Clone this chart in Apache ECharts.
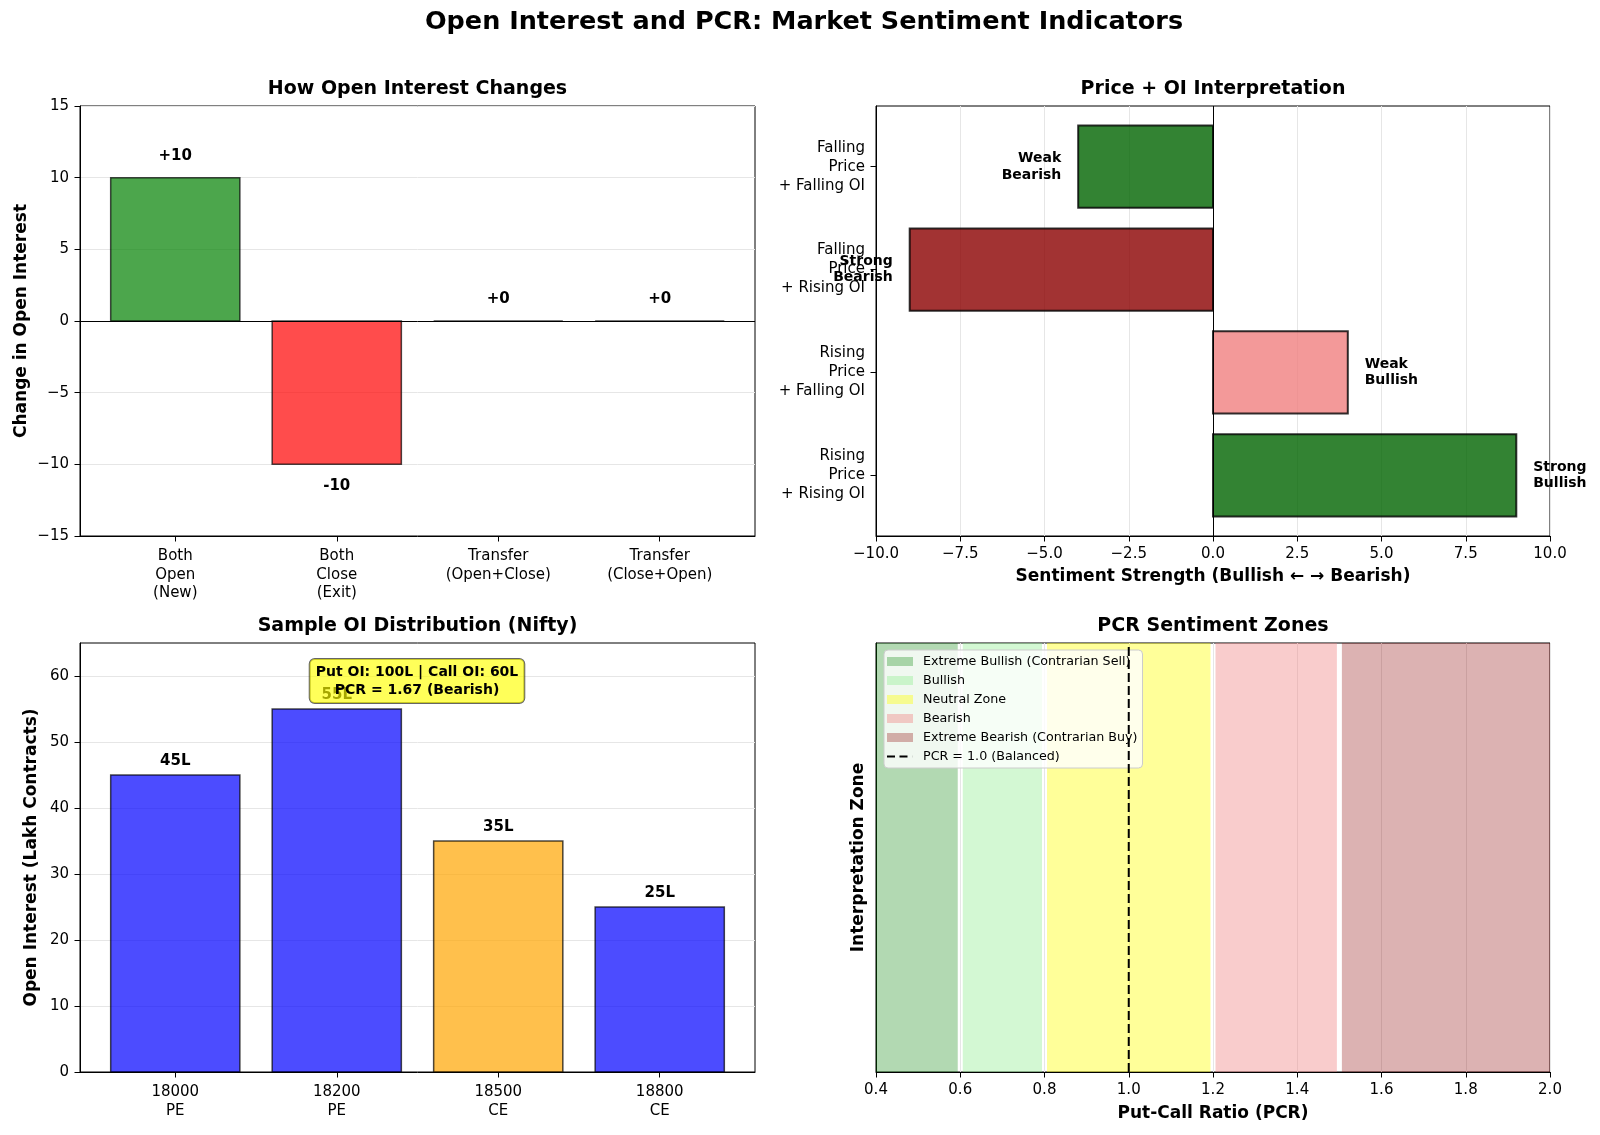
<!DOCTYPE html>
<html>
<head>
<meta charset="utf-8">
<title>Open Interest and PCR</title>
<script src="https://cdn.jsdelivr.net/npm/echarts@6/dist/echarts.min.js"></script>
<style>
html, body { margin: 0; padding: 0; background: #fff; }
#main { width: 1600px; height: 1135px; }
</style>
</head>
<body>
<div id="main"></div>
<script>
// how OI changes
var oiActions = ['Both\nOpen\n(New)', 'Both\nClose\n(Exit)', 'Transfer\n(Open+Close)', 'Transfer\n(Close+Open)'];
var oiChange = [10, -10, 0, 0];

// price + OI cases, bottom to top
var priceOiCases = ['Rising\nPrice\n+ Rising OI', 'Rising\nPrice\n+ Falling OI', 'Falling\nPrice\n+ Rising OI', 'Falling\nPrice\n+ Falling OI'];
var sentimentScore = [9, 4, -9, -4];
var sentimentTags = ['Strong\nBullish', 'Weak\nBullish', 'Strong\nBearish', 'Weak\nBearish'];

// sample nifty OI
var strikes = ['18000', '18200', '18500', '18800'];
var optTypes = ['PE', 'PE', 'CE', 'CE'];
var strikeOI = [45, 55, 35, 25];
var oiTicks = [0, 10, 20, 30, 40, 50, 60];

// pcr zones
var zoneNames = ['Extreme Bullish (Contrarian Sell)', 'Bullish', 'Neutral Zone', 'Bearish', 'Extreme Bearish (Contrarian Buy)'];
var zoneFrom = [0.4, 0.6, 0.8, 1.2, 1.5];
var zoneTo = [0.6, 0.8, 1.2, 1.5, 2.0];
var pcrBalanced = 1.0;

// colours
var oiColors = ['rgba(0,128,0,0.7)', 'rgba(255,0,0,0.7)', 'rgba(128,128,128,0.7)', 'rgba(128,128,128,0.7)'];
var caseColors = ['rgba(0,100,0,0.8)', 'rgba(240,128,128,0.8)', 'rgba(139,0,0,0.8)', 'rgba(0,100,0,0.8)'];
var strikeColors = ['rgba(0,0,255,0.7)', 'rgba(0,0,255,0.7)', 'rgba(255,165,0,0.7)', 'rgba(0,0,255,0.7)'];
var zoneColors = ['rgba(0,128,0,0.3)', 'rgba(144,238,144,0.4)', 'rgba(255,255,0,0.4)', 'rgba(240,128,128,0.4)', 'rgba(139,0,0,0.3)'];

var FONT = 'DejaVu Sans';
var gridLine = { show: true, lineStyle: { color: '#e6e6e6', width: 1 } };
var tick = { show: true, length: 5.5, lineStyle: { color: '#000', width: 1 } };
var axLine = { show: true, onZero: false, lineStyle: { color: '#000', width: 1 } };
var nameStyle = { fontSize: 17, fontWeight: 'bold', color: '#000', fontFamily: FONT };
var hiddenDot = { color: 'rgba(0,0,0,0)', opacity: 1 };
// dashed line icon for the legend
var dashIcon = 'path://M0,0h8v2.2h-8zM12.5,0h8v2.2h-8zM25.9,0h0.1v2.2h-0.1z';

function minus(s) { return String(s).replace('-', '\u2212'); }
function idx(arr) { return arr.map(function (d, i) { return i; }); }

var putOI = 0, callOI = 0;
strikeOI.forEach(function (v, i) { if (optTypes[i] === 'PE') putOI += v; else callOI += v; });
var pcr = putOI / callOI;

var chart = echarts.init(document.getElementById('main'));

function titleAt(text, x, y, size) {
    return { text: text, left: x, top: y, textAlign: 'center', padding: 0,
        textStyle: { fontSize: size, fontWeight: 'bold', color: '#000', fontFamily: FONT } };
}

function vbar(colors, lw, edge) {
    return function (params, api) {
        var i = api.value(0), v = api.value(1);
        var p0 = api.coord([i - 0.4, v]);
        var p1 = api.coord([i + 0.4, 0]);
        return {
            type: 'rect',
            shape: { x: p0[0], y: Math.min(p0[1], p1[1]), width: p1[0] - p0[0], height: Math.abs(p1[1] - p0[1]) },
            style: { fill: colors[params.dataIndex], stroke: edge, lineWidth: lw }
        };
    };
}

var series = [];

// top left
series.push({
    type: 'custom', xAxisIndex: 0, yAxisIndex: 0, z: 2,
    data: oiChange.map(function (v, i) { return [i, v]; }),
    encode: { x: 0, y: 1 },
    renderItem: vbar(oiColors, 1.5, 'rgba(0,0,0,0.7)')
});
series.push({
    type: 'scatter', xAxisIndex: 0, yAxisIndex: 0, z: 4, symbolSize: 0.1,
    itemStyle: hiddenDot,
    data: oiChange.map(function (v, i) {
        return { value: [i, v >= 0 ? v + 1 : v - 1],
            label: { position: v >= 0 ? 'top' : 'bottom', formatter: v >= 0 ? '+' + v : String(v) } };
    }),
    label: { show: true, distance: 0, fontSize: 15, fontWeight: 'bold', color: '#000', fontFamily: FONT },
    markLine: { silent: true, symbol: ['none', 'none'], label: { show: false },
        lineStyle: { color: '#000', width: 1, type: 'solid' }, data: [{ yAxis: 0 }] }
});

// top right
series.push({
    type: 'custom', xAxisIndex: 1, yAxisIndex: 1, z: 2,
    data: sentimentScore.map(function (v, k) { return [v, k]; }),
    encode: { x: 0, y: 1 },
    renderItem: function (params, api) {
        var v = api.value(0), k = api.value(1);
        var p0 = api.coord([0, k + 0.4]);
        var p1 = api.coord([v, k - 0.4]);
        return {
            type: 'rect',
            shape: { x: Math.min(p0[0], p1[0]), y: p0[1], width: Math.abs(p1[0] - p0[0]), height: p1[1] - p0[1] },
            style: { fill: caseColors[params.dataIndex], stroke: 'rgba(0,0,0,0.8)', lineWidth: 2 }
        };
    }
});
series.push({
    type: 'scatter', xAxisIndex: 1, yAxisIndex: 1, z: 4, symbolSize: 0.1,
    itemStyle: hiddenDot,
    data: sentimentScore.map(function (v, k) {
        return { value: [v >= 0 ? v + 0.5 : v - 0.5, k],
            label: { position: v >= 0 ? 'right' : 'left', formatter: sentimentTags[k] } };
    }),
    label: { show: true, distance: 0, fontSize: 14, lineHeight: 16.5, fontWeight: 'bold', color: '#000', fontFamily: FONT },
    markLine: { silent: true, symbol: ['none', 'none'], label: { show: false },
        lineStyle: { color: '#000', width: 1, type: 'solid' }, data: [{ xAxis: 0 }] }
});

// bottom left
series.push({
    type: 'custom', xAxisIndex: 2, yAxisIndex: 2, z: 2,
    data: strikeOI.map(function (v, i) { return [i, v]; }),
    encode: { x: 0, y: 1 },
    renderItem: vbar(strikeColors, 1.5, 'rgba(0,0,0,0.7)')
});
series.push({
    type: 'scatter', xAxisIndex: 2, yAxisIndex: 2, z: 4, symbolSize: 0.1,
    itemStyle: hiddenDot,
    data: strikeOI.map(function (v, i) { return { value: [i, v + 1], label: { formatter: v + 'L' } }; }),
    label: { show: true, position: 'top', distance: 0, fontSize: 15, fontWeight: 'bold', color: '#000', fontFamily: FONT }
});

// bottom right zones
var pcrMin = zoneFrom[0], pcrMax = zoneTo[zoneTo.length - 1];
zoneNames.forEach(function (name, i) {
    series.push({
        type: 'custom', name: name, xAxisIndex: 3, yAxisIndex: 3, z: 2,
        itemStyle: { color: zoneColors[i] },
        data: [[zoneFrom[i], zoneTo[i]]],
        encode: { x: [0, 1] },
        renderItem: function (params, api) {
            var a = api.value(0), b = api.value(1);
            var p0 = api.coord([a, 1]), p1 = api.coord([b, 0]);
            var x0 = p0[0], x1 = p1[0];
            if (a > pcrMin) x0 += 2.5;
            if (b < pcrMax) x1 -= 2.5;
            return { type: 'rect', shape: { x: x0, y: p0[1], width: x1 - x0, height: p1[1] - p0[1] },
                style: { fill: api.visual('color') } };
        }
    });
});
series.push({
    type: 'line', name: 'PCR = 1.0 (Balanced)', xAxisIndex: 3, yAxisIndex: 3, z: 5,
    symbol: 'none', silent: true,
    data: [[pcrBalanced, 0], [pcrBalanced, 1]],
    itemStyle: { color: '#000' },
    lineStyle: { color: '#000', width: 2, type: [9, 4] }
});

var option = {
    animation: false,
    backgroundColor: '#fff',
    textStyle: { fontFamily: FONT },
    title: [
        titleAt('Open Interest and PCR: Market Sentiment Indicators', 804, 9, 25.5),
        titleAt('How Open Interest Changes', 417.5, 80, 19),
        titleAt('Price + OI Interpretation', 1213, 80, 19),
        titleAt('Sample OI Distribution (Nifty)', 417.5, 617, 19),
        titleAt('PCR Sentiment Zones', 1213, 617, 19)
    ],
    grid: [
        { left: 80, top: 106, width: 675, height: 430, show: true, borderColor: '#000', borderWidth: 1, backgroundColor: 'transparent' },
        { left: 876, top: 106, width: 674, height: 430, show: true, borderColor: '#000', borderWidth: 1, backgroundColor: 'transparent' },
        { left: 80, top: 643, width: 675, height: 429, show: true, borderColor: '#000', borderWidth: 1, backgroundColor: 'transparent' },
        { left: 876, top: 643, width: 674, height: 429, show: true, borderColor: '#000', borderWidth: 1, backgroundColor: 'transparent' }
    ],
    xAxis: [
        { gridIndex: 0, type: 'value', min: -0.59, max: 3.59, splitLine: { show: false }, axisLine: axLine,
            axisTick: { show: true, length: 5.5, lineStyle: { color: '#000' }, customValues: idx(oiActions) },
            axisLabel: { customValues: idx(oiActions), formatter: function (v) { return oiActions[Math.round(v)]; },
                fontSize: 15, lineHeight: 18.5, margin: 11, color: '#000' } },
        { gridIndex: 1, type: 'value', min: -10, max: 10, interval: 2.5, splitLine: gridLine, axisLine: axLine, axisTick: tick,
            axisLabel: { formatter: function (v) { return minus(v.toFixed(1)); }, fontSize: 15, margin: 11, color: '#000' },
            name: 'Sentiment Strength (Bullish \u2190 \u2192 Bearish)', nameLocation: 'middle', nameGap: 32, nameTextStyle: nameStyle },
        { gridIndex: 2, type: 'value', min: -0.59, max: 3.59, splitLine: { show: false }, axisLine: axLine,
            axisTick: { show: true, length: 5.5, lineStyle: { color: '#000' }, customValues: idx(strikes) },
            axisLabel: { customValues: idx(strikes), formatter: function (v) { var i = Math.round(v); return strikes[i] + '\n' + optTypes[i]; },
                fontSize: 15, lineHeight: 18.5, margin: 11, color: '#000' } },
        { gridIndex: 3, type: 'value', min: 0.4, max: 2.0, interval: 0.2, splitLine: gridLine, axisLine: axLine, axisTick: tick,
            axisLabel: { formatter: function (v) { return v.toFixed(1); }, fontSize: 15, margin: 11, color: '#000' },
            name: 'Put-Call Ratio (PCR)', nameLocation: 'middle', nameGap: 33, nameTextStyle: nameStyle }
    ],
    yAxis: [
        { gridIndex: 0, type: 'value', min: -15, max: 15, interval: 5, splitLine: gridLine, axisLine: axLine, axisTick: tick,
            axisLabel: { formatter: function (v) { return minus(Math.round(v)); }, fontSize: 15, margin: 11, color: '#000' },
            name: 'Change in Open Interest', nameLocation: 'middle', nameGap: 50, nameTextStyle: nameStyle },
        { gridIndex: 1, type: 'value', min: -0.59, max: 3.59, splitLine: { show: false }, axisLine: axLine,
            axisTick: { show: true, length: 5.5, lineStyle: { color: '#000' }, customValues: idx(priceOiCases) },
            axisLabel: { customValues: idx(priceOiCases), formatter: function (v) { return priceOiCases[Math.round(v)]; },
                fontSize: 15, lineHeight: 19, margin: 11, color: '#000' } },
        { gridIndex: 2, type: 'value', min: 0, max: 65, splitLine: { show: true, lineStyle: { color: '#e6e6e6' }, customValues: oiTicks },
            axisLine: axLine,
            axisTick: { show: true, length: 5.5, lineStyle: { color: '#000' }, customValues: oiTicks },
            axisLabel: { customValues: oiTicks, fontSize: 15, margin: 11, color: '#000' },
            name: 'Open Interest (Lakh Contracts)', nameLocation: 'middle', nameGap: 40, nameTextStyle: nameStyle },
        { gridIndex: 3, type: 'value', min: 0, max: 1, splitLine: { show: false }, axisLine: axLine,
            axisTick: { show: false }, axisLabel: { show: false },
            name: 'Interpretation Zone', nameLocation: 'middle', nameGap: 9, nameTextStyle: nameStyle }
    ],
    legend: {
        left: 884, top: 650, orient: 'vertical',
        data: zoneNames.map(function (n) { return { name: n, icon: 'rect' }; })
            .concat([{ name: 'PCR = 1.0 (Balanced)', icon: dashIcon, itemStyle: { color: '#000' } }]),
        itemWidth: 26, itemHeight: 9, itemGap: 6,
        padding: [5, 5, 5, 3],
        backgroundColor: 'rgba(255,255,255,0.8)', borderColor: '#cccccc', borderWidth: 1, borderRadius: 4,
        selectedMode: false,
        textStyle: { fontSize: 12.7, lineHeight: 12.7, color: '#000', fontFamily: FONT, padding: [0, 0, 0, 5] }
    },
    graphic: [{
        type: 'text', x: 417, y: 681, z: 100,
        style: {
            text: 'Put OI: ' + putOI + 'L | Call OI: ' + callOI + 'L\nPCR = ' + pcr.toFixed(2) + ' (Bearish)',
            font: 'bold 14px "DejaVu Sans"', fill: '#000', align: 'center', verticalAlign: 'middle', lineHeight: 18,
            backgroundColor: 'rgba(255,255,0,0.65)', borderColor: 'rgba(0,0,0,0.6)', borderWidth: 1, borderRadius: 5,
            padding: [4, 6]
        }
    }],
    series: series
};

chart.setOption(option);
</script>
</body>
</html>
